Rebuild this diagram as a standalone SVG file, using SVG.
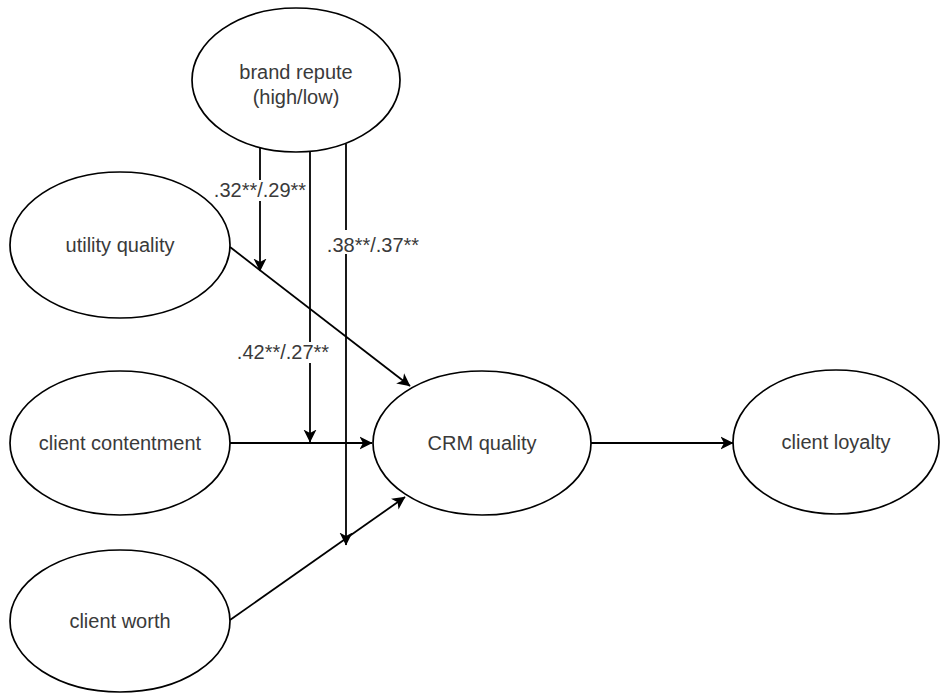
<svg xmlns="http://www.w3.org/2000/svg" width="940" height="694" viewBox="0 0 940 694">
<style>
.node ellipse{fill:#fff;stroke:#000;stroke-width:1.7}
text{font-family:"Liberation Sans",Arial,sans-serif;font-size:20px;fill:#3a3a3a;text-anchor:middle;dominant-baseline:central}
.edge{fill:none;stroke:#000;stroke-width:1.8;marker-end:url(#arr)}
.lbg{fill:#fff}
</style>
<defs>
<marker id="arr" markerUnits="userSpaceOnUse" markerWidth="14" markerHeight="14" refX="12.5" refY="6.5" orient="auto" viewBox="0 0 14 13">
<path d="M0,0 L13,6.5 L0,13 L3.5,6.5 z" fill="#000"/>
</marker>
</defs>
<rect width="940" height="694" fill="#fff"/>
<g id="connectors">
<line class="edge" x1="230" y1="247" x2="410" y2="386"/>
<line class="edge" x1="230" y1="443" x2="372" y2="443"/>
<line class="edge" x1="230" y1="620" x2="405" y2="497"/>
<line class="edge" x1="591" y1="443" x2="733" y2="443"/>
<line class="edge" x1="260" y1="148" x2="260" y2="271"/>
<line class="edge" x1="310" y1="151" x2="310" y2="442"/>
<line class="edge" x1="346" y1="144" x2="346" y2="545"/>
<g id="labels">
<rect class="lbg" x="214" y="180" width="92" height="21"/>
<text x="260" y="190">.32**/.29**</text>
<rect class="lbg" x="237" y="342" width="92" height="21"/>
<text x="283" y="352">.42**/.27**</text>
<rect class="lbg" x="327" y="230" width="92" height="24"/>
<text x="373" y="245">.38**/.37**</text>
</g>
</g>
<g id="brand" class="node">
<ellipse cx="296" cy="80" rx="104" ry="72"/>
<text x="296" y="72">brand repute</text>
<text x="296" y="97">(high/low)</text>
</g>
<g id="utility" class="node">
<ellipse cx="120" cy="245" rx="110" ry="73"/>
<text x="120" y="245">utility quality</text>
</g>
<g id="contentment" class="node">
<ellipse cx="120" cy="443" rx="110" ry="72"/>
<text x="120" y="443">client contentment</text>
</g>
<g id="worth" class="node">
<ellipse cx="120" cy="621" rx="110" ry="71"/>
<text x="120" y="621">client worth</text>
</g>
<g id="crm" class="node">
<ellipse cx="482" cy="443" rx="109" ry="72"/>
<text x="482" y="443">CRM quality</text>
</g>
<g id="loyalty" class="node">
<ellipse cx="836" cy="442" rx="103" ry="72"/>
<text x="836" y="442">client loyalty</text>
</g>
</svg>
